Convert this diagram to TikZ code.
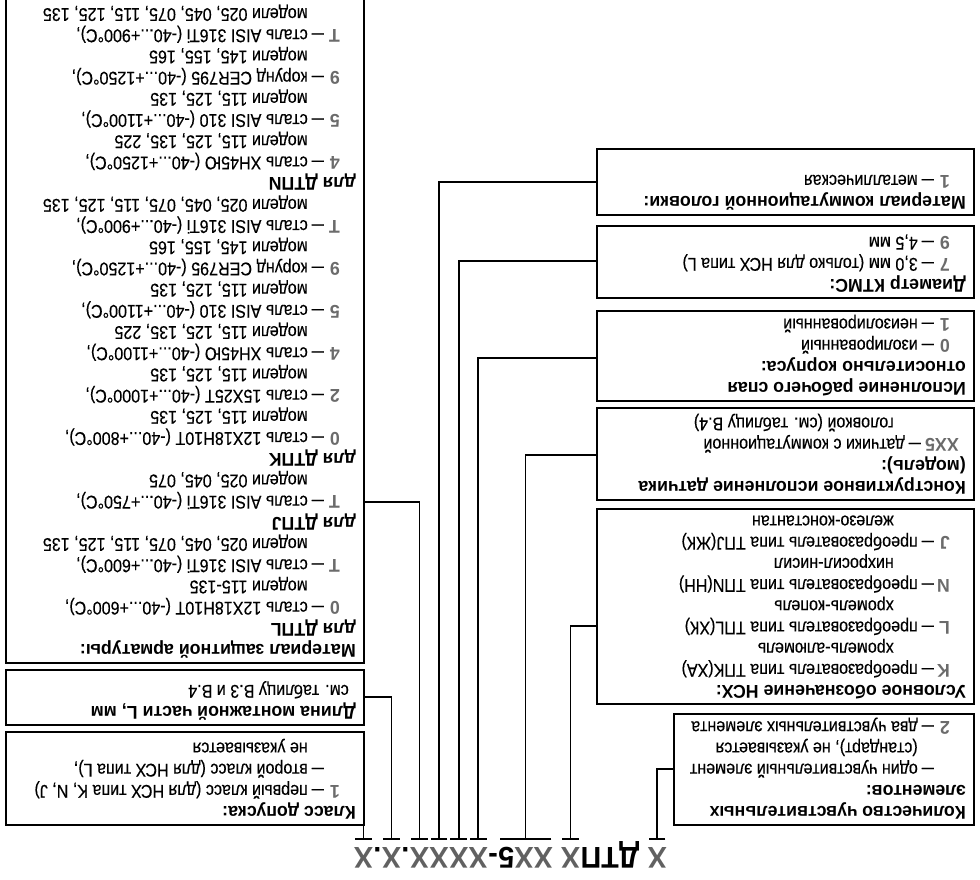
\documentclass[tikz,border=0pt]{standalone}
\usepackage{fontspec}
\usepackage{graphicx}
\setmainfont{Liberation Sans}[FakeStretch=0.87,FakeBold=0.25]
\newfontfamily\hdfont{Liberation Sans}[FakeStretch=0.96]
\usetikzlibrary{positioning}

\definecolor{labgray}{gray}{0.42}
\definecolor{codegray}{gray}{0.38}

\newcommand{\hd}[1]{{\hdfont\bfseries #1}}
\newcommand{\dsh}{\makebox[20pt][c]{\scalebox{0.75}[1]{—}}}
\newcommand{\itm}[2]{\hspace*{16pt}\makebox[12pt][l]{\textcolor{labgray}{\hdfont\bfseries #1}}\dsh#2}
\newcommand{\cont}[1]{\hspace*{48pt}#1}
\newcommand{\panel}[3]{\parbox[c][#2][t]{#1}{\begin{tabular}{@{}l@{}}\rule{0pt}{19pt}#3\end{tabular}}}

\begin{document}
\begin{tikzpicture}[rotate=180,transform shape,x=1pt,y=1pt,
  box/.style={draw,line width=2.4pt,inner xsep=8pt,inner ysep=0pt,anchor=south west},
  wire/.style={line width=1.8pt},
  bar/.style={line width=1.8pt,shorten <=1.5pt,shorten >=1.5pt},
  codechar/.style={inner sep=0pt,font=\fontsize{30}{32}\selectfont\hdfont\bfseries}]
\tikzstyle{every node}=[font=\fontsize{18.5}{21.2}\selectfont]
\useasboundingbox (0,0) rectangle (980,880);
\clip (0,0) rectangle (980,880);

% order code
\node[codechar,text=codegray,anchor=base west] (kCount) at (313,847) {X};
\node[codechar,base right=7.8pt of kCount] (kDtp) {ДТП};
\node[codechar,text=codegray,base right=0pt of kDtp] (kNsx) {X};
\node[codechar,text=codegray,base right=7.8pt of kNsx] (kModel) {XX\textcolor{black}{5}};
\node[codechar,base right=0pt of kModel] (kDash) {-};
\node[codechar,text=codegray,base right=0pt of kDash] (kJunc) {X};
\node[codechar,text=codegray,base right=0pt of kJunc] (kDiam) {X};
\node[codechar,text=codegray,base right=0pt of kDiam] (kHead) {X};
\node[codechar,text=codegray,base right=0pt of kHead] (kArmor) {X};
\node[codechar,base right=0pt of kArmor] (kDot1) {.};
\node[codechar,text=codegray,base right=0pt of kDot1] (kLen) {X};
\node[codechar,base right=0pt of kLen] (kDot2) {.};
\node[codechar,text=codegray,base right=0pt of kDot2] (kCls) {X};

% left column
\node[box] (count) at (5,713) {\panel{284pt}{111pt}{%
\hd{Количество чувствительных}\\
\hd{элементов:}\\
\itm{}{один чувствительный элемент}\\
\cont{(стандарт), не указывается}\\
\itm{2}{два чувствительных элемента}}};
\node[box] (nsx) at (5,508) {\panel{361pt}{195pt}{%
\hd{Условное обозначение НСХ:}\\
\itm{K}{преобразователь типа ТПK(ХА)}\\
\hspace*{72pt}хромель-алюмель\\
\itm{L}{преобразователь типа ТПL(ХК)}\\
\hspace*{72pt}хромель-копель\\
\itm{N}{преобразователь типа ТПN(НН)}\\
\hspace*{72pt}нихросил-нисил\\
\itm{J}{преобразователь типа ТПJ(ЖК)}\\
\hspace*{72pt}железо-константан}};
\node[box] (model) at (5,407) {\panel{361pt}{92pt}{%
\hd{Конструктивное исполнение датчика}\\
\hd{(модель):}\\
\hspace*{7pt}\makebox[34pt][l]{\textcolor{labgray}{\hdfont\bfseries XX5}}\dsh датчики с коммутационной\\
\hspace*{72pt}головкой (см. таблицу В.4)}};
\node[box] (junc) at (5,310) {\panel{361pt}{90pt}{%
\hd{Исполнение рабочего спая}\\
\hd{относительно корпуса:}\\
\itm{0}{изолированный}\\
\itm{1}{неизолированный}}};
\node[box] (diam) at (5,225) {\panel{361pt}{72pt}{%
\hd{Диаметр КТМС:}\\
\itm{7}{3,0 мм (только для НСХ типа L)}\\
\itm{9}{4,5 мм}}};
\node[box] (head) at (5,148) {\panel{361pt}{66pt}{%
\hd{Материал коммутационной головки:}\\
\itm{1}{металлическая}}};

% right column
\node[box] (cls) at (615,731) {\panel{342pt}{93pt}{%
\hd{Класс допуска:}\\
\itm{1}{первый класс (для НСХ типа K, N, J)}\\
\itm{}{второй класс (для НСХ типа L),}\\
\cont{не указывается}}};
\node[box] (len) at (615,669) {\panel{342pt}{55pt}{%
\hd{Длина монтажной части L, мм}\\
\hspace*{7pt}см. таблицу В.3 и В.4}};
\node[box] (armor) at (615,-40) {\panel{342pt}{702pt}{%
\hd{Материал защитной арматуры:}\\
\hd{для ДТПL}\\
\itm{0}{сталь 12Х18Н10Т (-40...+600°C),}\\
\cont{модели 115-135}\\
\itm{T}{сталь AISI 316Ti (-40...+600°C),}\\
\cont{модели 025, 045, 075, 115, 125, 135}\\
\hd{для ДТПJ}\\
\itm{T}{сталь AISI 316Ti (-40...+750°C),}\\
\cont{модели 025, 045, 075}\\
\hd{для ДТПK}\\
\itm{0}{сталь 12Х18Н10Т (-40...+800°C),}\\
\cont{модели 115, 125, 135}\\
\itm{2}{сталь 15Х25Т (-40...+1000°C),}\\
\cont{модели 115, 125, 135}\\
\itm{4}{сталь ХН45Ю (-40...+1100°C),}\\
\cont{модели 115, 125, 135, 225}\\
\itm{5}{сталь AISI 310 (-40...+1100°C),}\\
\cont{модели 115, 125, 135}\\
\itm{9}{корунд CER795 (-40...+1250°C),}\\
\cont{модели 145, 155, 165}\\
\itm{T}{сталь AISI 316Ti (-40...+900°C),}\\
\cont{модели 025, 045, 075, 115, 125, 135}\\
\hd{для ДТПN}\\
\itm{4}{сталь ХН45Ю (-40...+1250°C),}\\
\cont{модели 115, 125, 135, 225}\\
\itm{5}{сталь AISI 310 (-40...+1100°C),}\\
\cont{модели 115, 125, 135}\\
\itm{9}{корунд CER795 (-40...+1250°C),}\\
\cont{модели 145, 155, 165}\\
\itm{T}{сталь AISI 316Ti (-40...+900°C),}\\
\cont{модели 025, 045, 075, 115, 125, 135}}};

% bars under the code
\draw[bar] (kCount.base west |- 0,839) -- (kCount.base east |- 0,839);
\draw[bar] (kNsx.base west |- 0,839) -- (kNsx.base east |- 0,839);
\draw[bar] (kModel.base west |- 0,839) -- (kModel.base east |- 0,839);
\draw[bar] (kJunc.base west |- 0,839) -- (kJunc.base east |- 0,839);
\draw[bar] (kDiam.base west |- 0,839) -- (kDiam.base east |- 0,839);
\draw[bar] (kHead.base west |- 0,839) -- (kHead.base east |- 0,839);
\draw[bar] (kArmor.base west |- 0,839) -- (kArmor.base east |- 0,839);
\draw[bar] (kLen.base west |- 0,839) -- (kLen.base east |- 0,839);
\draw[bar] (kCls.base west |- 0,839) -- (kCls.base east |- 0,839);

% connectors
\draw[wire] (kCount.base |- 0,839) |- (count.east |- 0,769);
\draw[wire] (kNsx.base |- 0,839) |- (nsx.east |- 0,626);
\draw[wire] (kModel.base |- 0,839) |- (model.east |- 0,455);
\draw[wire] (kJunc.base |- 0,839) |- (junc.east |- 0,358);
\draw[wire] (kDiam.base |- 0,839) |- (diam.east |- 0,261);
\draw[wire] (kHead.base |- 0,839) |- (head.east |- 0,182);
\draw[wire] (kArmor.base |- 0,839) |- (armor.west |- 0,502);
\draw[wire] (kLen.base |- 0,839) |- (len.west |- 0,697);
\draw[wire] (kCls.base |- 0,839) |- (cls.west |- 0,783);
\end{tikzpicture}
\end{document}
